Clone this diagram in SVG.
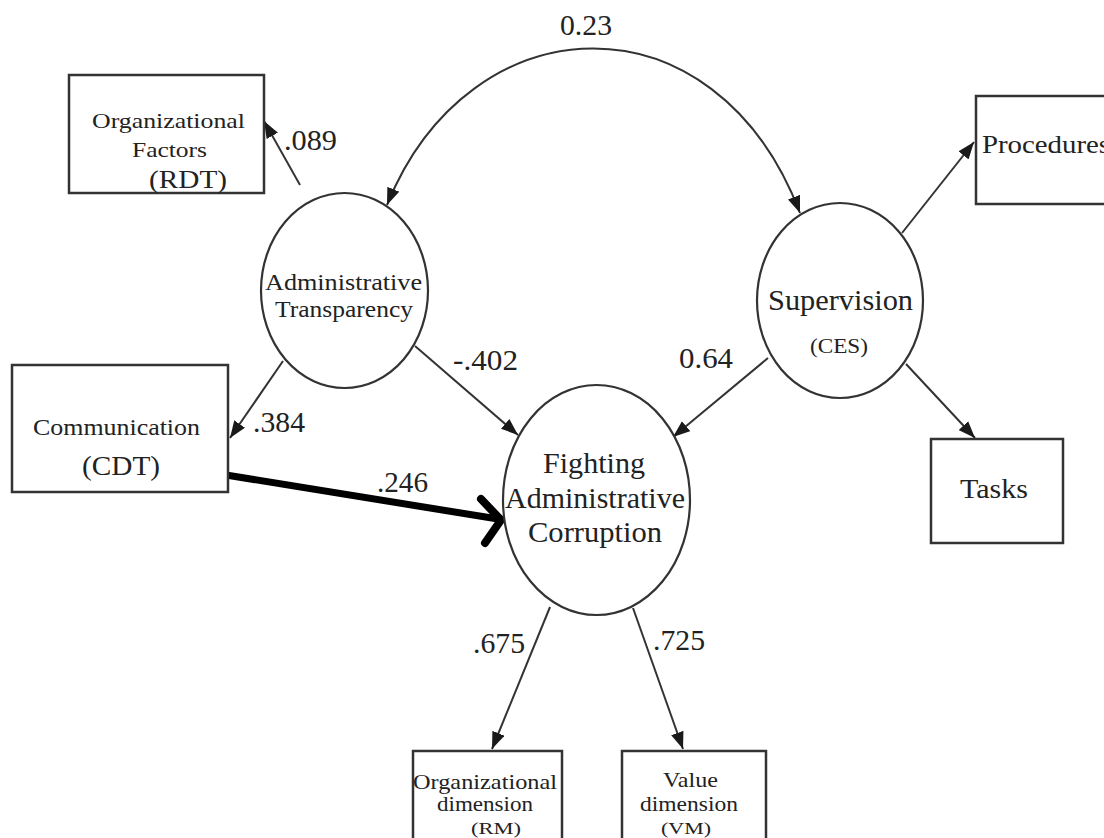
<svg xmlns="http://www.w3.org/2000/svg" width="1104" height="838" viewBox="0 0 1104 838">
<defs>
<marker id="ah" markerUnits="userSpaceOnUse" markerWidth="18" markerHeight="13" refX="17" refY="6.5" orient="auto-start-reverse">
<path d="M0,0 L17,6.5 L0,13 z" fill="#1a1a1a"/>
</marker>
</defs>
<style>
.box{fill:#fff;stroke:#333;stroke-width:2.5}
.ell{fill:#fff;stroke:#333;stroke-width:2.2}
.t{font-family:"Liberation Serif","Times New Roman",serif;fill:#222;text-anchor:start}
.num{font-family:"Liberation Serif","Times New Roman",serif;fill:#222;font-size:29px}
.edge{stroke:#333;stroke-width:2;fill:none;marker-end:url(#ah)}
</style>
<rect width="1104" height="838" fill="#fff"/>
<g id="connectors">
<path class="edge" d="M387,205 C470,0 715,-10 800,213" marker-start="url(#ah)"/>
<line class="edge" x1="300" y1="185" x2="264" y2="121"/>
<line class="edge" x1="283" y1="361" x2="230" y2="438"/>
<line class="edge" x1="415" y1="346" x2="518" y2="435"/>
<line class="edge" x1="768" y1="358" x2="673" y2="437"/>
<line class="edge" x1="902" y1="233" x2="974" y2="142"/>
<line class="edge" x1="906" y1="364" x2="975" y2="438"/>
<line class="edge" x1="550" y1="607" x2="492" y2="749"/>
<line class="edge" x1="633" y1="608" x2="683" y2="749"/>
<line x1="226" y1="475" x2="498" y2="519" stroke="#000" stroke-width="7"/>
<polyline points="481,499 501,520 485,543" fill="none" stroke="#000" stroke-width="8" stroke-linecap="round" stroke-linejoin="round"/>
</g>
<g id="labels">
<text class="num" x="560" y="35" textLength="52" lengthAdjust="spacingAndGlyphs">0.23</text>
<text class="num" x="284" y="150" textLength="53" lengthAdjust="spacingAndGlyphs">.089</text>
<text class="num" x="253" y="432" textLength="52" lengthAdjust="spacingAndGlyphs">.384</text>
<text class="num" x="453" y="370" textLength="65" lengthAdjust="spacingAndGlyphs">-.402</text>
<text class="num" x="679" y="368" textLength="54" lengthAdjust="spacingAndGlyphs">0.64</text>
<text class="num" x="377" y="492" textLength="51" lengthAdjust="spacingAndGlyphs">.246</text>
<text class="num" x="473" y="653" textLength="52" lengthAdjust="spacingAndGlyphs">.675</text>
<text class="num" x="653" y="650" textLength="52" lengthAdjust="spacingAndGlyphs">.725</text>
</g>
<g id="org-factors">
<rect class="box" x="69" y="75" width="195" height="118"/>
<text class="t" x="92" y="128" font-size="22" textLength="153" lengthAdjust="spacingAndGlyphs">Organizational</text>
<text class="t" x="132" y="157" font-size="22" textLength="75" lengthAdjust="spacingAndGlyphs">Factors</text>
<text class="t" x="149" y="188" font-size="26" textLength="78" lengthAdjust="spacingAndGlyphs">(RDT)</text>
</g>
<g id="admin-transparency">
<ellipse class="ell" cx="344.5" cy="290.5" rx="83.5" ry="97.5"/>
<text class="t" x="265" y="290" font-size="24" textLength="157" lengthAdjust="spacingAndGlyphs">Administrative</text>
<text class="t" x="275" y="317" font-size="24" textLength="138" lengthAdjust="spacingAndGlyphs">Transparency</text>
</g>
<g id="communication">
<rect class="box" x="12" y="365" width="216" height="127"/>
<text class="t" x="33" y="435" font-size="23" textLength="167" lengthAdjust="spacingAndGlyphs">Communication</text>
<text class="t" x="82" y="475" font-size="28" textLength="78" lengthAdjust="spacingAndGlyphs">(CDT)</text>
</g>
<g id="fighting">
<ellipse class="ell" cx="596.5" cy="500" rx="93.5" ry="115"/>
<text class="t" x="543" y="473" font-size="29" textLength="102" lengthAdjust="spacingAndGlyphs">Fighting</text>
<text class="t" x="505" y="508" font-size="29" textLength="180" lengthAdjust="spacingAndGlyphs">Administrative</text>
<text class="t" x="528" y="542" font-size="29" textLength="134" lengthAdjust="spacingAndGlyphs">Corruption</text>
</g>
<g id="supervision">
<ellipse class="ell" cx="840" cy="300.5" rx="83" ry="97.5"/>
<text class="t" x="768" y="310" font-size="29" textLength="145" lengthAdjust="spacingAndGlyphs">Supervision</text>
<text class="t" x="810" y="353" font-size="20" textLength="58" lengthAdjust="spacingAndGlyphs">(CES)</text>
</g>
<g id="procedures">
<rect class="box" x="976" y="96" width="140" height="108"/>
<text class="t" x="982" y="153" font-size="26" textLength="128" lengthAdjust="spacingAndGlyphs">Procedures</text>
</g>
<g id="tasks">
<rect class="box" x="931" y="439" width="132" height="104"/>
<text class="t" x="960" y="498" font-size="27" textLength="68" lengthAdjust="spacingAndGlyphs">Tasks</text>
</g>
<g id="org-dimension">
<rect class="box" x="413" y="751" width="149" height="100"/>
<text class="t" x="413" y="789" font-size="22" textLength="144" lengthAdjust="spacingAndGlyphs">Organizational</text>
<text class="t" x="437" y="811" font-size="21" textLength="96" lengthAdjust="spacingAndGlyphs">dimension</text>
<text class="t" x="471" y="834" font-size="17" textLength="50" lengthAdjust="spacingAndGlyphs">(RM)</text>
</g>
<g id="value-dimension">
<rect class="box" x="622" y="751" width="144" height="100"/>
<text class="t" x="663" y="787" font-size="22" textLength="55" lengthAdjust="spacingAndGlyphs">Value</text>
<text class="t" x="640" y="811" font-size="21" textLength="98" lengthAdjust="spacingAndGlyphs">dimension</text>
<text class="t" x="661" y="834" font-size="17" textLength="50" lengthAdjust="spacingAndGlyphs">(VM)</text>
</g>
</svg>
